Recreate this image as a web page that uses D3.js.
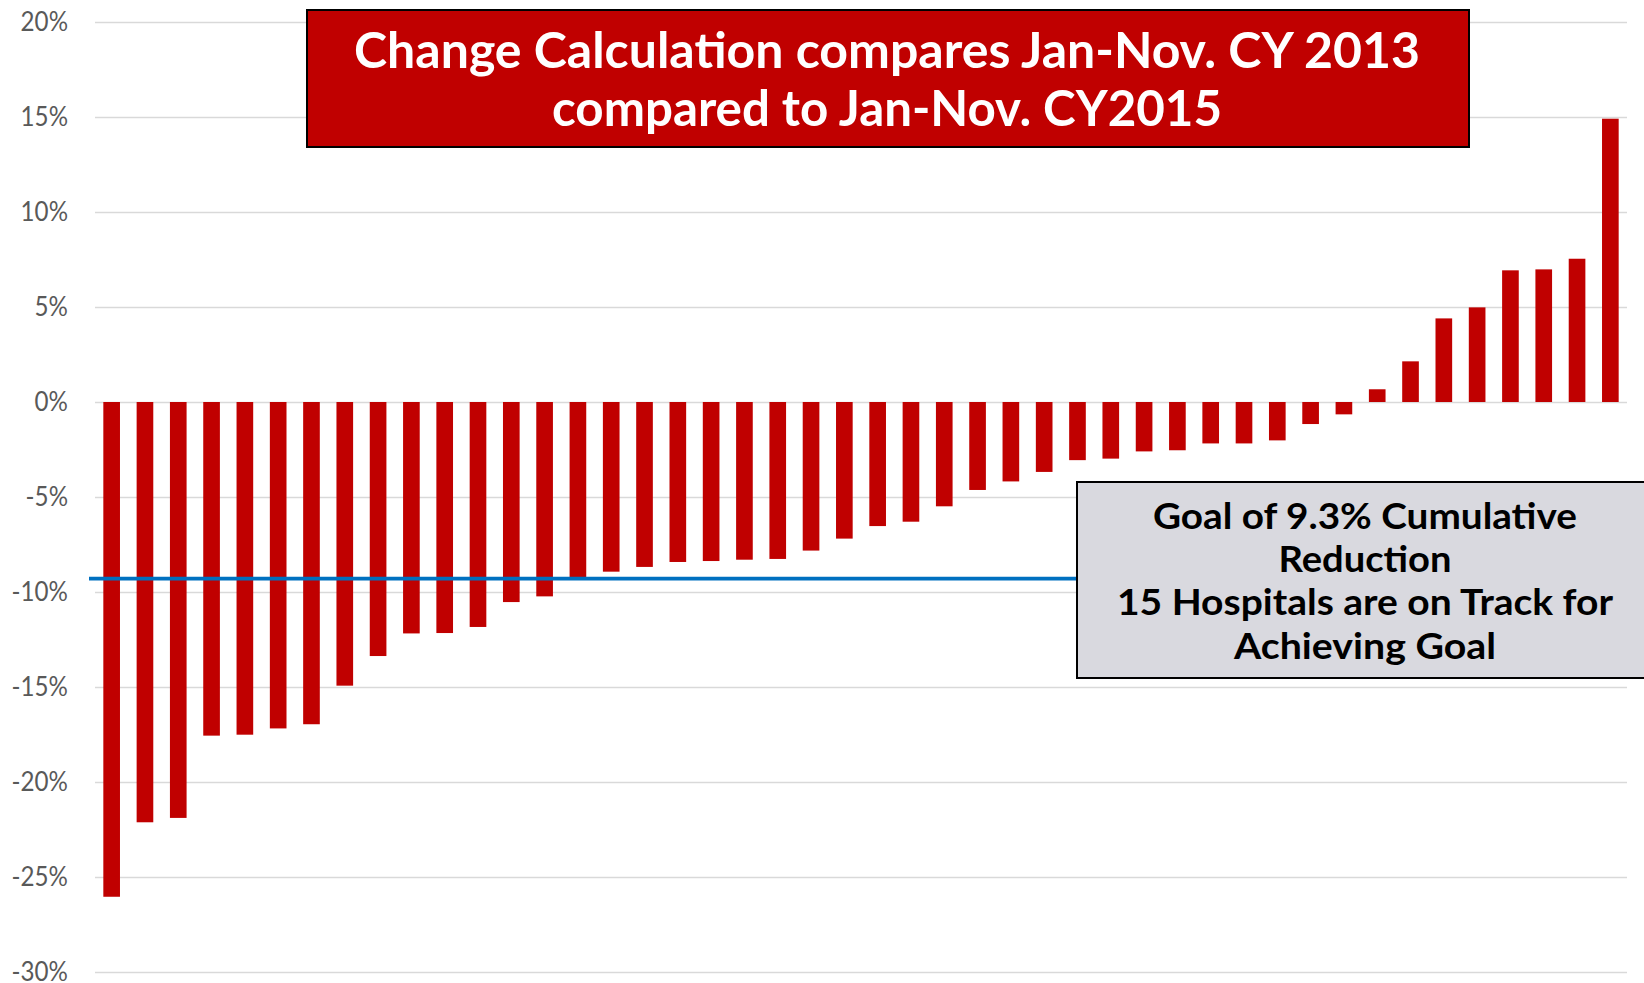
<!DOCTYPE html>
<html>
<head>
<meta charset="utf-8">
<script src="https://cdn.jsdelivr.net/npm/d3@7"></script>
<style>
  html, body { margin: 0; padding: 0; background: #fff; }
  svg { display: block; }
</style>
</head>
<body>
<svg id="chart"></svg>
<script>
// hospitals, sorted by change (Jan-Nov CY2013 vs Jan-Nov CY2015)
const hospitals = [
  "H01","H02","H03","H04","H05","H06","H07","H08","H09","H10",
  "H11","H12","H13","H14","H15","H16","H17","H18","H19","H20",
  "H21","H22","H23","H24","H25","H26","H27","H28","H29","H30",
  "H31","H32","H33","H34","H35","H36","H37","H38","H39","H40",
  "H41","H42","H43","H44","H45","H46"
];
const changePct = [
  -26.04, -22.12, -21.89, -17.56, -17.51, -17.18, -16.96, -14.93, -13.37, -12.18,
  -12.16, -11.84, -10.53, -10.23, -9.35, -8.93, -8.68, -8.42, -8.37, -8.30,
  -8.26, -7.82, -7.19, -6.53, -6.30, -5.49, -4.63, -4.18, -3.68, -3.06,
  -2.98, -2.60, -2.54, -2.18, -2.18, -2.02, -1.16, -0.65, 0.67, 2.14,
  4.40, 4.98, 6.93, 6.98, 7.54, 14.91
];
const yTicks = [20, 15, 10, 5, 0, -5, -10, -15, -20, -25, -30];
const goalPct = -9.3;

const titleLines = [
  "Change Calculation compares Jan-Nov. CY 2013",
  "compared to Jan-Nov. CY2015"
];
const goalLines = [
  "Goal of 9.3% Cumulative",
  "Reduction",
  "15 Hospitals are on Track for",
  "Achieving Goal"
];

const W = 1644, H = 983;
const svg = d3.select("#chart").attr("width", W).attr("height", H);

const x = d3.scaleBand()
  .domain(hospitals)
  .range([95, 1627])
  .paddingInner(0.5)
  .paddingOuter(0.25);

const y = d3.scaleLinear()
  .domain([-30, 20])
  .range([972, 22]);

// gridlines + tick labels
const yAxis = d3.axisLeft(y)
  .tickValues(yTicks)
  .tickSize(-(1627 - 95))
  .tickPadding(27)
  .tickFormat(d => d + "%");

const gAxis = svg.append("g")
  .attr("transform", "translate(95,0)")
  .call(yAxis);
gAxis.select(".domain").remove();
gAxis.selectAll(".tick line")
  .attr("stroke", "#d9d9d9")
  .attr("stroke-width", 1.5);
gAxis.selectAll(".tick text")
  .attr("fill", "#595959")
  .attr("dy", "0.33em")
  .style("font-family", "Lato, 'Open Sans', sans-serif")
  .style("font-size", "26px")
  .each(function() {
    // Gill Sans numerals are a bit narrower than Lato's
    const len = this.getComputedTextLength();
    d3.select(this)
      .attr("textLength", len * 0.93)
      .attr("lengthAdjust", "spacingAndGlyphs");
  });

// bars
const data = hospitals.map((h, i) => ({ h, v: changePct[i] }));
svg.append("g").selectAll("rect")
  .data(data)
  .enter()
  .append("rect")
  .attr("x", d => x(d.h))
  .attr("width", x.bandwidth())
  .attr("y", d => y(Math.max(0, d.v)))
  .attr("height", d => Math.abs(y(d.v) - y(0)))
  .attr("fill", "#c00000");

// goal line
svg.append("line")
  .attr("x1", 89)
  .attr("x2", 1077)
  .attr("y1", y(goalPct))
  .attr("y2", y(goalPct))
  .attr("stroke", "#0070c0")
  .attr("stroke-width", 3.8);

// fits a text line to a measured width
function fitText(sel, target) {
  sel.each(function() {
    const len = this.getComputedTextLength();
    if (Math.abs(len - target) > 2) {
      d3.select(this)
        .attr("textLength", target)
        .attr("lengthAdjust", "spacingAndGlyphs");
    }
  });
}

// title box
svg.append("rect")
  .attr("x", 307)
  .attr("y", 10)
  .attr("width", 1162)
  .attr("height", 137)
  .attr("fill", "#c00000")
  .attr("stroke", "#000")
  .attr("stroke-width", 2);

const titleBase = [68, 126];
const titleWidth = [1066, 670];
titleLines.forEach((t, i) => {
  svg.append("text")
    .attr("x", 887)
    .attr("y", titleBase[i])
    .attr("text-anchor", "middle")
    .attr("fill", "#fff")
    .style("font-family", "Lato, 'Open Sans', sans-serif")
    .style("font-weight", "bold")
    .style("font-size", "49px")
    .text(t)
    .call(fitText, titleWidth[i]);
});

// goal box
svg.append("rect")
  .attr("x", 1077)
  .attr("y", 482)
  .attr("width", 600)
  .attr("height", 196)
  .attr("fill", "#d9d9df")
  .attr("stroke", "#000")
  .attr("stroke-width", 2);

const goalBase = [529, 572, 615, 659];
const goalWidth = [424, 173, 496, 262];
goalLines.forEach((t, i) => {
  svg.append("text")
    .attr("x", 1365)
    .attr("y", goalBase[i])
    .attr("text-anchor", "middle")
    .attr("fill", "#000")
    .style("font-family", "Lato, 'Open Sans', sans-serif")
    .style("font-weight", "bold")
    .style("font-size", "36px")
    .text(t)
    .call(fitText, goalWidth[i]);
});
</script>
</body>
</html>
